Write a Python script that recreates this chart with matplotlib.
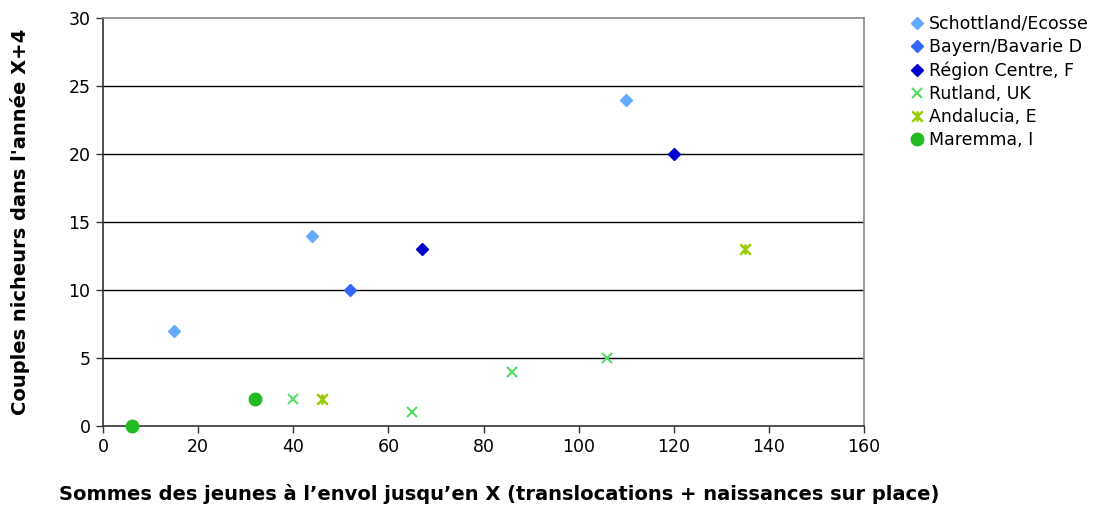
import numpy as np
import matplotlib.pyplot as plt
from matplotlib.path import Path

# data
schott_x = [15, 44, 110]
schott_y = [7, 14, 24]
bayern_x = [52]
bayern_y = [10]
centre_x = [67, 120]
centre_y = [13, 20]
rutland_x = [40, 65, 86, 106]
rutland_y = [2, 1, 4, 5]
andal_x = [46, 135]
andal_y = [2, 13]
marem_x = [6, 32]
marem_y = [0, 2]

# x with a vertical bar (Excel "star" marker)
star = Path([(-0.5, -0.5), (0.5, 0.5), (-0.5, 0.5), (0.5, -0.5), (0, -0.5), (0, 0.5)],
            [Path.MOVETO, Path.LINETO, Path.MOVETO, Path.LINETO, Path.MOVETO, Path.LINETO])

plt.rcParams['font.family'] = ['DejaVu Sans']

fig = plt.figure(figsize=(10.97, 5.08), dpi=100)
ax = fig.add_axes([103 / 1097, 1 - 426 / 508, (864 - 103) / 1097, (426 - 18) / 508])

ax.plot(schott_x, schott_y, 'D', color='#66aaff', ms=6.5, ls='none', label='Schottland/Ecosse', clip_on=False)
ax.plot(bayern_x, bayern_y, 'D', color='#3366ff', ms=6.5, ls='none', label='Bayern/Bavarie D', clip_on=False)
ax.plot(centre_x, centre_y, 'D', color='#0000cc', ms=6.5, ls='none', label='Région Centre, F', clip_on=False)
ax.plot(rutland_x, rutland_y, 'x', color='#55dd66', ms=7.5, mew=1.5, ls='none', label='Rutland, UK', clip_on=False)
ax.plot(andal_x, andal_y, marker=star, color='#99cc00', ms=7.5, mew=1.8, ls='none', label='Andalucia, E', clip_on=False)
ax.plot(marem_x, marem_y, 'o', color='#22bb22', ms=9, ls='none', label='Maremma, I', clip_on=False, zorder=5)

ax.set_xlim(0, 160)
ax.set_ylim(0, 30)
ax.set_xticks(np.arange(0, 161, 20))
ax.set_yticks(np.arange(0, 31, 5))
for y in range(5, 30, 5):
    ax.axhline(y, color='black', lw=1, zorder=0)

ax.spines['top'].set_color('#888888')
ax.spines['right'].set_color('#888888')
ax.spines['left'].set_color('#333333')
ax.spines['bottom'].set_color('#333333')
for s in ax.spines.values():
    s.set_linewidth(1.2)
ax.tick_params(direction='out', length=5, width=1, color='#333333', labelsize=12.5, pad=4)

fig.text(20 / 1097, 1 - 222 / 508, "Couples nicheurs dans l'année X+4", rotation=90,
         ha='center', va='center', fontsize=14, fontweight='bold')
fig.text(499 / 1097, 1 - 494 / 508,
         "Sommes des jeunes à l’envol jusqu’en X (translocations + naissances sur place)",
         ha='center', va='center', fontsize=14, fontweight='bold')

fig.legend(loc='upper left', bbox_to_anchor=(903 / 1097, 1 - 8 / 508), frameon=False,
           fontsize=12.5, handlelength=0.8, handletextpad=0.3, labelspacing=0.3,
           borderaxespad=0)

fig.savefig('out.png', dpi=100)
